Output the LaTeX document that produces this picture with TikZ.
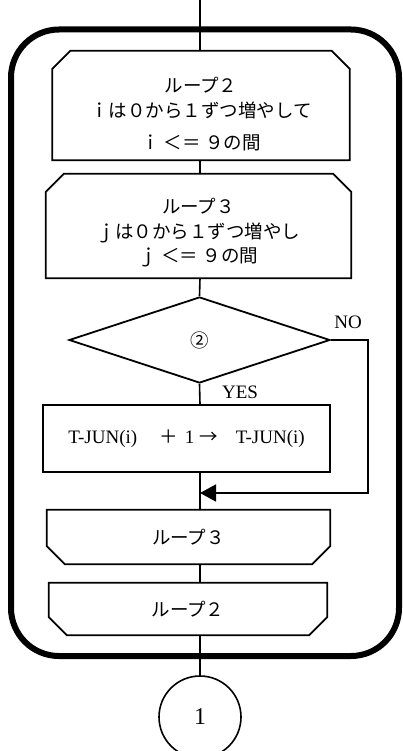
\documentclass[tikz,border=0pt]{standalone}
\usepackage{fontspec}
\setmainfont{Liberation Serif}
\newfontfamily\jp{Noto Sans CJK JP}
\usetikzlibrary{arrows.meta, positioning, shapes.geometric, calc}

% outline of a loop start (cut top corners) and of a loop end (cut bottom corners)
\newcommand\looptop[1]{%
  \draw[outline] (#1.south west) -- ($(#1.north west)+(0,18)$) -- ($(#1.north west)+(18,0)$)
    -- ($(#1.north east)+(-18,0)$) -- ($(#1.north east)+(0,18)$) -- (#1.south east) -- cycle;}
\newcommand\loopend[1]{%
  \draw[outline] (#1.north west) -- ($(#1.south west)+(0,-18)$) -- ($(#1.south west)+(18,0)$)
    -- ($(#1.south east)+(-18,0)$) -- ($(#1.south east)+(0,-18)$) -- (#1.north east) -- cycle;}

\begin{document}
\begin{tikzpicture}[x=1pt, y=-1pt, >={Triangle[length=16pt, width=17pt]},
    outline/.style={line width=1.8pt, line join=miter},
    loopbox/.style={rectangle, inner sep=0pt},
    looptext/.style={inner sep=0pt, align=center, font=\jp\fontsize{18.5}{24.5}\selectfont},
    procbox/.style={draw, line width=1.8pt, inner sep=0pt, font=\fontsize{19}{22}\selectfont},
    flow/.style={line width=1.6pt},
    lbl/.style={inner sep=0pt, font=\fontsize{19}{22}\selectfont}]
    \useasboundingbox (0,0) rectangle (403,751);
    % outer frame
    \draw[line width=6pt, rounded corners=48pt] (11,29.5) rectangle (399,656);
    % loop 2 start
    \node[loopbox, minimum width=297pt, minimum height=109pt] at (201,105.5) (lpA) {};
    \looptop{lpA}
    \node[looptext] at ($(lpA.center)+(0,9)$) (lpAtext) {ループ２\\ｉは０から１ずつ増やして\\[8pt]ｉ ＜＝ ９の間};
    % loop 3 start
    \node[loopbox, minimum width=305pt, minimum height=104pt] at (198.5,226) (lpB) {};
    \looptop{lpB}
    \node[looptext] at ($(lpB.center)+(0,7)$) (lpBtext) {ループ３\\ｊは０から１ずつ増やし\\ｊ ＜＝ ９の間};
    % decision
    \node[diamond, draw, line width=1.8pt, inner sep=0pt, minimum width=261pt, minimum height=86pt,
        font=\jp\fontsize{18.5}{20}\selectfont] at (199.5,340) (cond) {②};
    \node[lbl] at (348,322) (no) {NO};
    \node[lbl] at (240,392) (yes) {YES};
    % count up
    \node[procbox, minimum width=287pt, minimum height=67pt] at (186.5,438.5) (inc)
        {T-JUN(i)\hspace{22pt}{\jp\fontsize{18.5}{22}\selectfont ＋}\hspace{7pt}1\hspace{5pt}{\jp\fontsize{18.5}{22}\selectfont →}\hspace{18pt}T-JUN(i)};
    % loop ends
    \node[loopbox, minimum width=283pt, minimum height=54pt, font=\jp\fontsize{18.5}{20}\selectfont]
        at (188.5,537) (lpBend) {ループ３};
    \loopend{lpBend}
    \node[loopbox, minimum width=278pt, minimum height=52pt, font=\jp\fontsize{18.5}{20}\selectfont]
        at (188,609) (lpAend) {ループ２};
    \loopend{lpAend}
    % connector
    \node[circle, draw, line width=1.6pt, minimum size=82pt, inner sep=0pt,
        font=\fontsize{24}{24}\selectfont] at (200,717) (conn) {1};
    % flow lines
    \coordinate (top) at (200,0);
    \coordinate (merge) at (200,493);
    \draw[flow] (top) -- (top |- lpA.north);
    \draw[flow] (top |- lpA.south) -- (top |- lpB.north);
    \draw[flow] (top |- lpB.south) -- (cond.north);
    \draw[flow] (cond.south) -- (top |- inc.north);
    \draw[flow] (top |- inc.south) -- (top |- lpBend.north);
    \draw[flow, ->] (cond.east) -- ++(37,0) |- (merge);
    \draw[flow] (top |- lpBend.south) -- (top |- lpAend.north);
    \draw[flow] (top |- lpAend.south) -- (conn.north);
\end{tikzpicture}
\end{document}
